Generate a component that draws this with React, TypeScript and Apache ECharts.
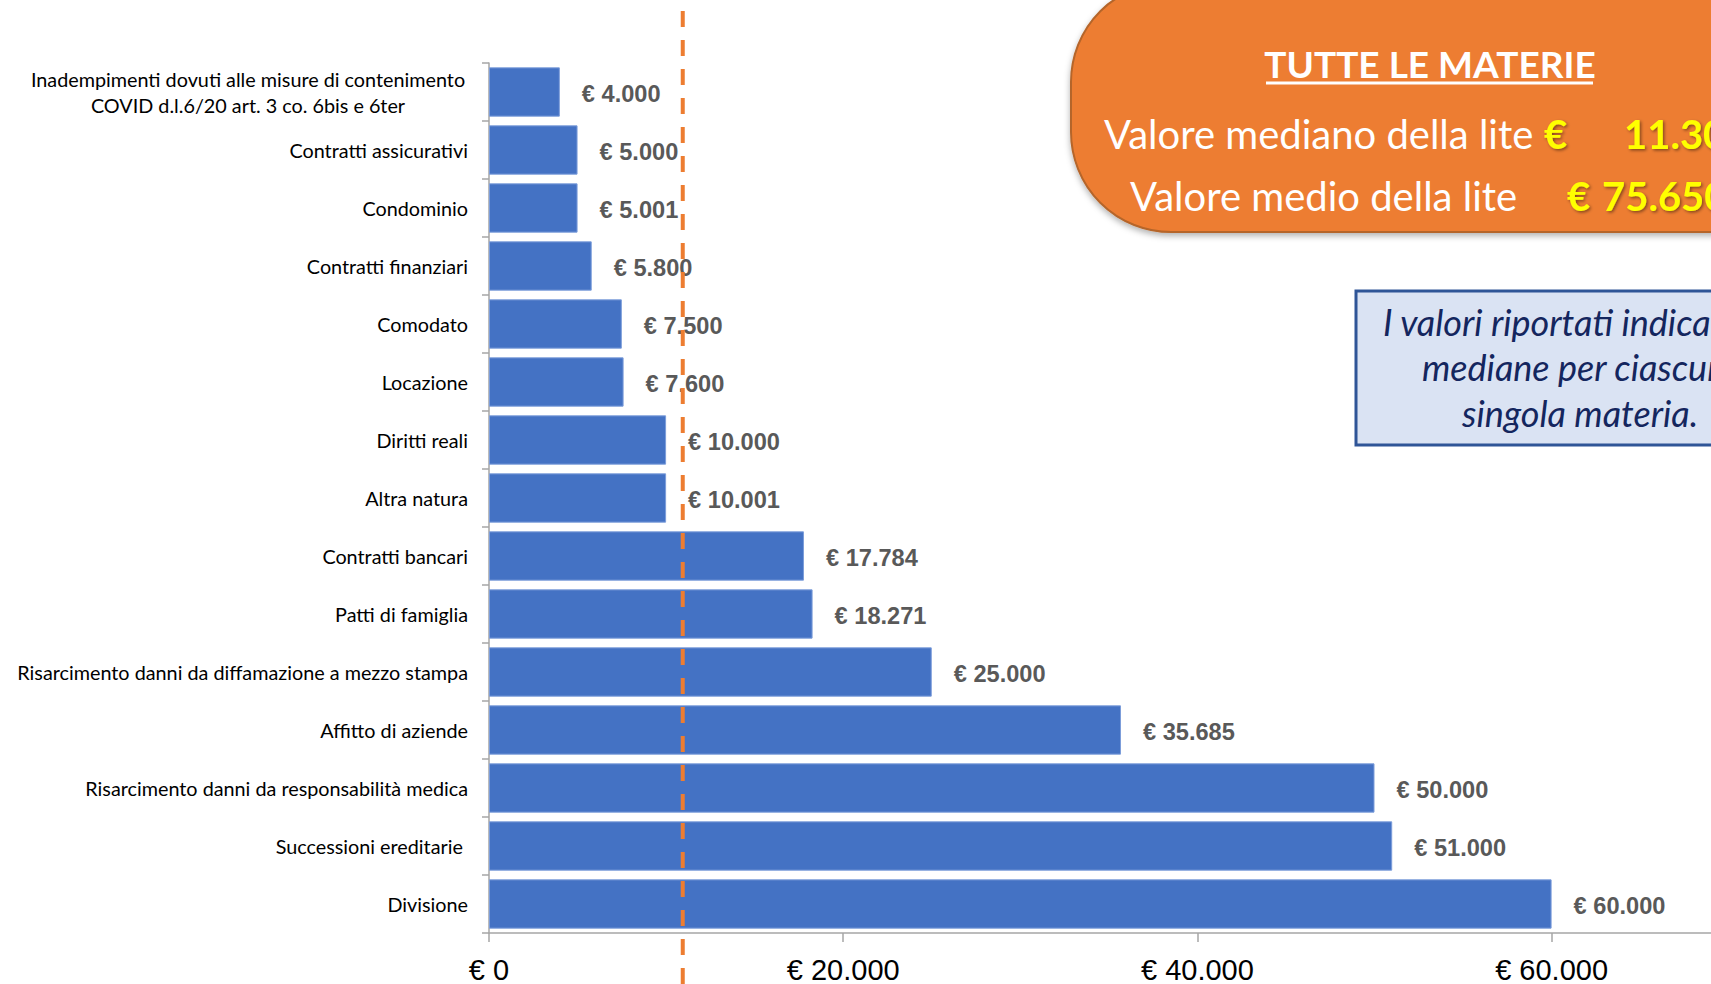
import React, { useEffect, useRef } from "react";
import * as echarts from "echarts";

const categories = [
  "Inadempimenti dovuti alle misure di contenimento\nCOVID d.l.6/20 art. 3 co. 6bis e 6ter",
  "Contratti assicurativi",
  "Condominio",
  "Contratti finanziari",
  "Comodato",
  "Locazione",
  "Diritti reali",
  "Altra natura",
  "Contratti bancari",
  "Patti di famiglia",
  "Risarcimento danni da diffamazione a mezzo stampa",
  "Affitto di aziende",
  "Risarcimento danni da responsabilità medica",
  "Successioni ereditarie ",
  "Divisione",
];

const values = [4000, 5000, 5001, 5800, 7500, 7600, 10000, 10001, 17784, 18271, 25000, 35685, 50000, 51000, 60000];

const medianLineValue = 10940;
const summaryTitle = "TUTTE LE MATERIE";
const medianLabel = "Valore mediano della lite";
const medianValue = "11.300";
const meanLabel = "Valore medio della lite";
const meanValue = "75.650";
const noteLines = ["I valori riportati indicano le", "mediane per ciascuna", "singola materia."];

const fmt = (v: number) => "€ " + String(Math.round(v)).replace(/\B(?=(\d{3})+(?!\d))/g, ".");

export default function App() {
  const ref = useRef<HTMLDivElement>(null);
  useEffect(() => {
    if (!ref.current) return;
    const chart = echarts.init(ref.current, undefined, { renderer: "svg" });
    chart.setOption({
      animation: false,
      grid: { left: 489, top: 63, height: 872, width: 1224, containLabel: false },
      xAxis: {
        type: "value",
        min: 0,
        max: 69000,
        interval: 20000,
        axisLine: { show: true, lineStyle: { color: "#A6A6A6", width: 1.5 } },
        axisTick: { show: true, length: 9, lineStyle: { color: "#A6A6A6", width: 1.5 } },
        splitLine: { show: false },
        axisLabel: {
          showMaxLabel: false,
          formatter: (v: number) => fmt(v),
          fontFamily: "Liberation Sans",
          fontSize: 29,
          color: "#000",
          margin: 22,
        },
      },
      yAxis: {
        type: "category",
        data: categories,
        inverse: true,
        axisLine: { show: true, lineStyle: { color: "#A6A6A6", width: 1.5 } },
        axisTick: { show: true, length: 7, lineStyle: { color: "#A6A6A6", width: 1.5 } },
        axisLabel: {
          fontFamily: "Lato",
          fontSize: 19.8,
          color: "#000",
          margin: 21,
          formatter: (v: string) => {
            if (v.indexOf("\n") >= 0) {
              return v
                .split("\n")
                .map((l) => "{c|" + l + "}")
                .join("\n");
            }
            return v;
          },
          rich: {
            c: { width: 440, align: "center", fontFamily: "Lato", fontSize: 19.8, color: "#000", lineHeight: 26 },
          },
        },
      },
      series: [
        {
          type: "bar",
          data: values,
          barCategoryGap: "15%",
          itemStyle: { color: "#4472C4", borderColor: "#7C9DDA", borderWidth: 1 },
          label: {
            show: true,
            position: "right",
            distance: 22,
            offset: [0, 2],
            formatter: (p: any) => fmt(p.value),
            fontFamily: "Liberation Sans",
            fontWeight: "bold",
            fontSize: 23.6,
            color: "#595959",
          },
          z: 2,
        },
      ],
    });

    const lx = chart.convertToPixel({ xAxisIndex: 0 }, medianLineValue) as number;
    const white = "#FFFFFF";
    const yellow = "#FFFF00";
    const shadow = { textShadowColor: "rgba(0,0,0,0.45)", textShadowBlur: 3, textShadowOffsetX: 1.5, textShadowOffsetY: 1.5 };

    chart.setOption({
      graphic: [
        {
          type: "line",
          z: 10,
          shape: { x1: lx, y1: 11, x2: lx, y2: 984 },
          style: { stroke: "#ED7D31", lineWidth: 4, lineDash: [16, 13] },
        },
        {
          type: "rect",
          z: 20,
          shape: { x: 1071, y: -18, width: 900, height: 250, r: 100 },
          style: {
            fill: "#ED7D31",
            stroke: "#B5652A",
            lineWidth: 2,
            shadowBlur: 6,
            shadowColor: "rgba(0,0,0,0.3)",
            shadowOffsetY: 3,
          },
        },
        {
          type: "text",
          z: 21,
          x: 1430,
          y: 63,
          style: { text: summaryTitle, fill: white, fontFamily: "Lato", fontWeight: "bold", fontSize: 37, align: "center", verticalAlign: "middle" },
        },
        {
          type: "line",
          z: 21,
          shape: { x1: 1266, y1: 83, x2: 1593, y2: 83 },
          style: { stroke: white, lineWidth: 3 },
        },
        {
          type: "text",
          z: 21,
          x: 1104,
          y: 134,
          style: { text: medianLabel, fill: white, fontFamily: "Lato", fontSize: 40, align: "left", verticalAlign: "middle" },
        },
        {
          type: "text",
          z: 21,
          x: 1544,
          y: 134,
          style: { text: "€", fill: yellow, fontFamily: "Lato", fontWeight: "bold", fontSize: 40, align: "left", verticalAlign: "middle", ...shadow },
        },
        {
          type: "text",
          z: 21,
          x: 1624,
          y: 134,
          style: { text: medianValue, fill: yellow, fontFamily: "Lato", fontWeight: "bold", fontSize: 40, align: "left", verticalAlign: "middle", ...shadow },
        },
        {
          type: "text",
          z: 21,
          x: 1130,
          y: 196,
          style: { text: meanLabel, fill: white, fontFamily: "Lato", fontSize: 40, align: "left", verticalAlign: "middle" },
        },
        {
          type: "text",
          z: 21,
          x: 1567,
          y: 196,
          style: { text: "€", fill: yellow, fontFamily: "Lato", fontWeight: "bold", fontSize: 40, align: "left", verticalAlign: "middle", ...shadow },
        },
        {
          type: "text",
          z: 21,
          x: 1602,
          y: 196,
          style: { text: meanValue, fill: yellow, fontFamily: "Lato", fontWeight: "bold", fontSize: 40, align: "left", verticalAlign: "middle", ...shadow },
        },
        {
          type: "rect",
          z: 20,
          shape: { x: 1356, y: 291, width: 600, height: 154 },
          style: { fill: "#DAE3F3", stroke: "#2F5597", lineWidth: 3 },
        },
        ...noteLines.map((t, i) => ({
          type: "text",
          z: 21,
          x: [1383, 1422, 1462][i],
          y: [322, 367, 413][i],
          style: { text: t, fill: "#14265E", fontFamily: "Lato", fontStyle: "italic", fontSize: 36, align: "left", verticalAlign: "middle" },
        })),
      ],
    });

    return () => chart.dispose();
  }, []);
  return <div ref={ref} style={{ position: "fixed", left: 0, top: 0, width: "1711px", height: "984px", background: "#fff" }} />;
}
